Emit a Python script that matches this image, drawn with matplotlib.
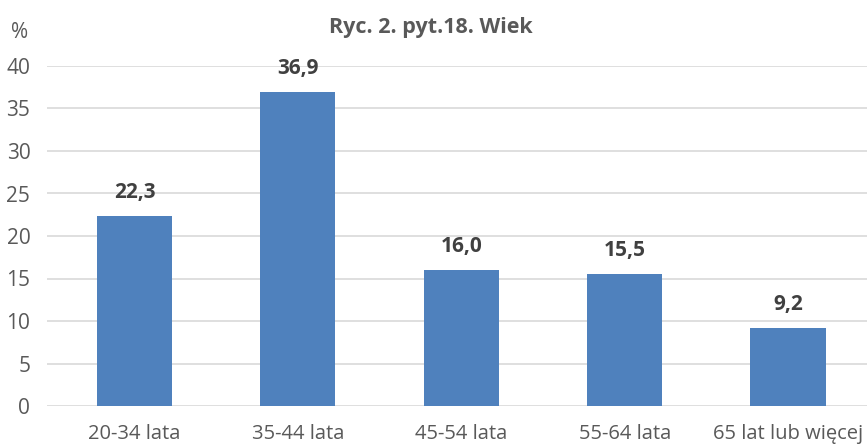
import matplotlib.pyplot as plt

# data
categories = ['20-34 lata', '35-44 lata', '45-54 lata', '55-64 lata', '65 lat lub więcej']
values = [22.3, 36.9, 16.0, 15.5, 9.2]
yticks = [0, 5, 10, 15, 20, 25, 30, 35, 40]

plt.rcParams['font.family'] = ['Liberation Sans Narrow', 'Open Sans', 'DejaVu Sans']
text_col = '#595959'

fig = plt.figure(figsize=(8.67, 4.48), dpi=100)
ax = fig.add_axes([47 / 867, 1 - 406 / 448, 820 / 867, 340 / 448])

x = range(len(categories))
bars = ax.bar(x, values, width=0.46, color='#4F81BD', zorder=3)

for b, v in zip(bars, values):
    ax.annotate(f'{v:.1f}'.replace('.', ','), (b.get_x() + b.get_width() / 2, v),
                xytext=(0, 17), textcoords='offset points', ha='center', va='center',
                fontsize=15, fontweight='bold', color='#404040')

ax.set_xlim(-0.535, 4.483)
ax.set_ylim(0, 40)
ax.set_yticks(yticks)
ax.set_xticks(list(x))
ax.set_xticklabels(categories)
ax.tick_params(axis='y', length=0, pad=12, labelsize=15, labelcolor=text_col)
ax.tick_params(axis='x', length=0, pad=13, labelsize=14.5, labelcolor=text_col)
ax.grid(axis='y', color='#D9D9D9', linewidth=1.2, zorder=0)
for s in ax.spines.values():
    s.set_visible(False)

fig.text(431 / 867, 1 - 27 / 448, 'Ryc. 2. pyt.18. Wiek', ha='center', va='center',
         fontsize=15.5, fontweight='bold', color=text_col)
fig.text(20 / 867, 1 - 32 / 448, '%', ha='center', va='center', fontsize=15, color=text_col)

plt.savefig('out.png', dpi=100)
